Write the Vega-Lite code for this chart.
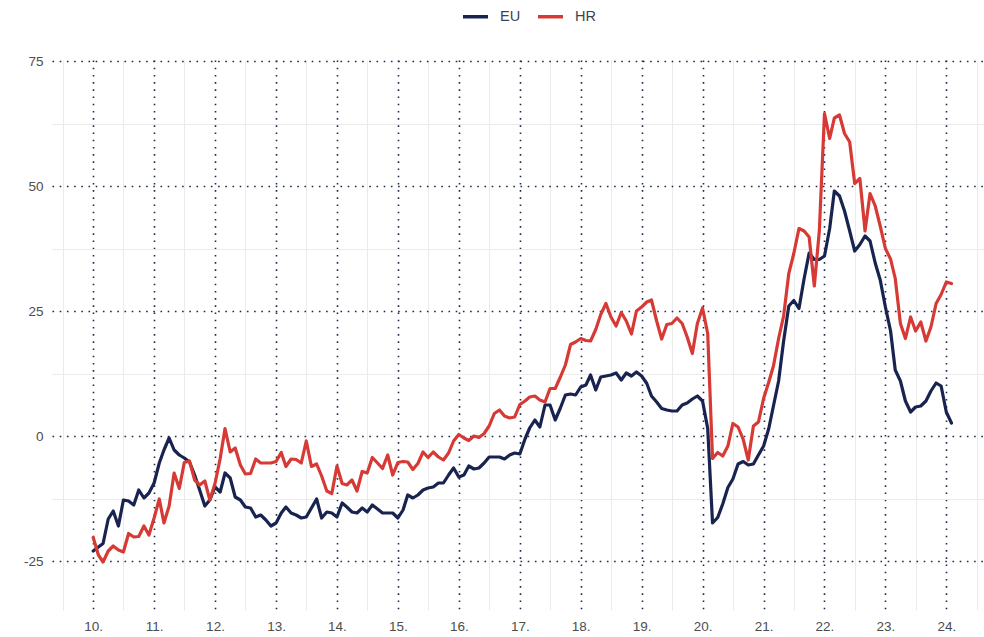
{
  "$schema": "https://vega.github.io/schema/vega-lite/v6.json",
  "width": 932,
  "height": 550,
  "autosize": {"type": "none"},
  "padding": {"left": 52, "top": 60, "right": 0, "bottom": 27},
  "background": "white",
  "config": {"view": {"stroke": null}, "font": "Liberation Sans"},
  "data": {
    "format": {"parse": {"date": "utc:'%Y-%m'"}},
    "values": [
      {"date": "2010-01", "EU": -23, "HR": -20.3},
      {"date": "2010-02", "EU": -22.2, "HR": -23.8},
      {"date": "2010-03", "EU": -21.5, "HR": -25.2},
      {"date": "2010-04", "EU": -16.6, "HR": -23},
      {"date": "2010-05", "EU": -15, "HR": -22},
      {"date": "2010-06", "EU": -18, "HR": -22.8},
      {"date": "2010-07", "EU": -12.8, "HR": -23.2},
      {"date": "2010-08", "EU": -13, "HR": -19.5},
      {"date": "2010-09", "EU": -13.8, "HR": -20.2},
      {"date": "2010-10", "EU": -10.8, "HR": -20.1},
      {"date": "2010-11", "EU": -12.4, "HR": -18},
      {"date": "2010-12", "EU": -11.4, "HR": -19.8},
      {"date": "2011-01", "EU": -9.4, "HR": -16.4},
      {"date": "2011-02", "EU": -5.4, "HR": -12.6},
      {"date": "2011-03", "EU": -2.8, "HR": -17.4},
      {"date": "2011-04", "EU": -0.4, "HR": -14},
      {"date": "2011-05", "EU": -2.8, "HR": -7.4},
      {"date": "2011-06", "EU": -3.8, "HR": -10.5},
      {"date": "2011-07", "EU": -4.4, "HR": -5.3},
      {"date": "2011-08", "EU": -5.2, "HR": -5},
      {"date": "2011-09", "EU": -7.8, "HR": -8.8},
      {"date": "2011-10", "EU": -10.8, "HR": -9.8},
      {"date": "2011-11", "EU": -14, "HR": -9},
      {"date": "2011-12", "EU": -12.8, "HR": -12.8},
      {"date": "2012-01", "EU": -10.2, "HR": -9.5},
      {"date": "2012-02", "EU": -11.2, "HR": -4.5},
      {"date": "2012-03", "EU": -7.4, "HR": 1.5},
      {"date": "2012-04", "EU": -8.4, "HR": -3.2},
      {"date": "2012-05", "EU": -12.2, "HR": -2.4},
      {"date": "2012-06", "EU": -12.8, "HR": -5.8},
      {"date": "2012-07", "EU": -14.2, "HR": -7.6},
      {"date": "2012-08", "EU": -14.4, "HR": -7.5},
      {"date": "2012-09", "EU": -16.2, "HR": -4.6},
      {"date": "2012-10", "EU": -15.8, "HR": -5.4},
      {"date": "2012-11", "EU": -16.8, "HR": -5.4},
      {"date": "2012-12", "EU": -18, "HR": -5.4},
      {"date": "2013-01", "EU": -17.4, "HR": -5.1},
      {"date": "2013-02", "EU": -15.4, "HR": -3.3},
      {"date": "2013-03", "EU": -14.2, "HR": -6.1},
      {"date": "2013-04", "EU": -15.4, "HR": -4.6},
      {"date": "2013-05", "EU": -15.8, "HR": -4.7},
      {"date": "2013-06", "EU": -16.4, "HR": -5.4},
      {"date": "2013-07", "EU": -16.2, "HR": -1},
      {"date": "2013-08", "EU": -14.4, "HR": -6.1},
      {"date": "2013-09", "EU": -12.6, "HR": -5.6},
      {"date": "2013-10", "EU": -16.4, "HR": -8},
      {"date": "2013-11", "EU": -15.2, "HR": -11},
      {"date": "2013-12", "EU": -15.4, "HR": -11.5},
      {"date": "2014-01", "EU": -16.2, "HR": -6},
      {"date": "2014-02", "EU": -13.4, "HR": -9.5},
      {"date": "2014-03", "EU": -14.2, "HR": -9.8},
      {"date": "2014-04", "EU": -15.2, "HR": -8.8},
      {"date": "2014-05", "EU": -15.4, "HR": -11},
      {"date": "2014-06", "EU": -14.4, "HR": -7.1},
      {"date": "2014-07", "EU": -15.2, "HR": -7.4},
      {"date": "2014-08", "EU": -13.8, "HR": -4.3},
      {"date": "2014-09", "EU": -14.6, "HR": -5.4},
      {"date": "2014-10", "EU": -15.4, "HR": -6.5},
      {"date": "2014-11", "EU": -15.4, "HR": -3.8},
      {"date": "2014-12", "EU": -15.4, "HR": -7.8},
      {"date": "2015-01", "EU": -16.4, "HR": -5.3},
      {"date": "2015-02", "EU": -14.8, "HR": -5.1},
      {"date": "2015-03", "EU": -11.8, "HR": -5.2},
      {"date": "2015-04", "EU": -12.4, "HR": -6.7},
      {"date": "2015-05", "EU": -11.8, "HR": -5.5},
      {"date": "2015-06", "EU": -10.8, "HR": -3.2},
      {"date": "2015-07", "EU": -10.4, "HR": -4.3},
      {"date": "2015-08", "EU": -10.2, "HR": -3.2},
      {"date": "2015-09", "EU": -9.4, "HR": -4.2},
      {"date": "2015-10", "EU": -9.4, "HR": -4.8},
      {"date": "2015-11", "EU": -7.8, "HR": -3.4},
      {"date": "2015-12", "EU": -6.4, "HR": -1},
      {"date": "2016-01", "EU": -8.2, "HR": 0.3},
      {"date": "2016-02", "EU": -7.8, "HR": -0.4},
      {"date": "2016-03", "EU": -6, "HR": -0.9},
      {"date": "2016-04", "EU": -6.6, "HR": 0},
      {"date": "2016-05", "EU": -6.4, "HR": -0.3},
      {"date": "2016-06", "EU": -5.4, "HR": 0.5},
      {"date": "2016-07", "EU": -4.2, "HR": 2},
      {"date": "2016-08", "EU": -4.2, "HR": 4.5},
      {"date": "2016-09", "EU": -4.2, "HR": 5.2},
      {"date": "2016-10", "EU": -4.6, "HR": 4},
      {"date": "2016-11", "EU": -3.8, "HR": 3.6},
      {"date": "2016-12", "EU": -3.4, "HR": 3.8},
      {"date": "2017-01", "EU": -3.6, "HR": 6.3},
      {"date": "2017-02", "EU": -0.6, "HR": 7},
      {"date": "2017-03", "EU": 1.6, "HR": 7.8},
      {"date": "2017-04", "EU": 3.2, "HR": 8},
      {"date": "2017-05", "EU": 1.8, "HR": 7.2},
      {"date": "2017-06", "EU": 6.2, "HR": 6.8},
      {"date": "2017-07", "EU": 6.2, "HR": 9.5},
      {"date": "2017-08", "EU": 3.2, "HR": 9.5},
      {"date": "2017-09", "EU": 5.6, "HR": 11.8},
      {"date": "2017-10", "EU": 8.2, "HR": 14.2},
      {"date": "2017-11", "EU": 8.4, "HR": 18.3},
      {"date": "2017-12", "EU": 8.2, "HR": 18.8},
      {"date": "2018-01", "EU": 9.8, "HR": 19.5},
      {"date": "2018-02", "EU": 10.2, "HR": 19.1},
      {"date": "2018-03", "EU": 12.2, "HR": 19},
      {"date": "2018-04", "EU": 9.2, "HR": 21.3},
      {"date": "2018-05", "EU": 11.8, "HR": 24.3},
      {"date": "2018-06", "EU": 12, "HR": 26.5},
      {"date": "2018-07", "EU": 12.2, "HR": 23.8},
      {"date": "2018-08", "EU": 12.6, "HR": 22},
      {"date": "2018-09", "EU": 11.2, "HR": 24.7},
      {"date": "2018-10", "EU": 12.6, "HR": 23},
      {"date": "2018-11", "EU": 12, "HR": 20.4},
      {"date": "2018-12", "EU": 12.8, "HR": 25},
      {"date": "2019-01", "EU": 12, "HR": 25.8},
      {"date": "2019-02", "EU": 10.5, "HR": 26.8},
      {"date": "2019-03", "EU": 8, "HR": 27.2},
      {"date": "2019-04", "EU": 6.8, "HR": 23},
      {"date": "2019-05", "EU": 5.5, "HR": 19.4},
      {"date": "2019-06", "EU": 5.2, "HR": 22.3},
      {"date": "2019-07", "EU": 5, "HR": 22.5},
      {"date": "2019-08", "EU": 5, "HR": 23.6},
      {"date": "2019-09", "EU": 6.2, "HR": 22.5},
      {"date": "2019-10", "EU": 6.6, "HR": 19.8},
      {"date": "2019-11", "EU": 7.4, "HR": 16.5},
      {"date": "2019-12", "EU": 8, "HR": 22.5},
      {"date": "2020-01", "EU": 7, "HR": 25.6},
      {"date": "2020-02", "EU": 1.5, "HR": 20.5},
      {"date": "2020-03", "EU": -17.4, "HR": -4.5},
      {"date": "2020-04", "EU": -16.3, "HR": -3.3},
      {"date": "2020-05", "EU": -13.6, "HR": -4},
      {"date": "2020-06", "EU": -10.3, "HR": -2},
      {"date": "2020-07", "EU": -8.6, "HR": 2.5},
      {"date": "2020-08", "EU": -5.6, "HR": 1.8},
      {"date": "2020-09", "EU": -5.1, "HR": -0.7},
      {"date": "2020-10", "EU": -5.8, "HR": -4.8},
      {"date": "2020-11", "EU": -5.6, "HR": 2},
      {"date": "2020-12", "EU": -3.8, "HR": 2.8},
      {"date": "2021-01", "EU": -2, "HR": 7.5},
      {"date": "2021-02", "EU": 1.5, "HR": 10.8},
      {"date": "2021-03", "EU": 6, "HR": 14},
      {"date": "2021-04", "EU": 11, "HR": 19.5},
      {"date": "2021-05", "EU": 19, "HR": 24},
      {"date": "2021-06", "EU": 26, "HR": 32.5},
      {"date": "2021-07", "EU": 27.1, "HR": 36.5},
      {"date": "2021-08", "EU": 25.5, "HR": 41.5},
      {"date": "2021-09", "EU": 31.5, "HR": 41},
      {"date": "2021-10", "EU": 36.6, "HR": 39.8},
      {"date": "2021-11", "EU": 35.3, "HR": 30},
      {"date": "2021-12", "EU": 35.3, "HR": 41},
      {"date": "2022-01", "EU": 36, "HR": 64.5},
      {"date": "2022-02", "EU": 41.5, "HR": 59.5},
      {"date": "2022-03", "EU": 49, "HR": 63.6},
      {"date": "2022-04", "EU": 48, "HR": 64.2},
      {"date": "2022-05", "EU": 45, "HR": 60.5},
      {"date": "2022-06", "EU": 41, "HR": 58.8},
      {"date": "2022-07", "EU": 37, "HR": 50.5},
      {"date": "2022-08", "EU": 38.3, "HR": 51.5},
      {"date": "2022-09", "EU": 40, "HR": 41},
      {"date": "2022-10", "EU": 39, "HR": 48.5},
      {"date": "2022-11", "EU": 34.6, "HR": 46},
      {"date": "2022-12", "EU": 31.2, "HR": 42},
      {"date": "2023-01", "EU": 25.8, "HR": 37.5},
      {"date": "2023-02", "EU": 21, "HR": 35.4},
      {"date": "2023-03", "EU": 13.2, "HR": 31.5},
      {"date": "2023-04", "EU": 11, "HR": 22.5},
      {"date": "2023-05", "EU": 7, "HR": 19.5},
      {"date": "2023-06", "EU": 4.8, "HR": 23.8},
      {"date": "2023-07", "EU": 5.8, "HR": 21},
      {"date": "2023-08", "EU": 6, "HR": 22.8},
      {"date": "2023-09", "EU": 7, "HR": 19},
      {"date": "2023-10", "EU": 9, "HR": 21.8},
      {"date": "2023-11", "EU": 10.6, "HR": 26.5},
      {"date": "2023-12", "EU": 10, "HR": 28.3},
      {"date": "2024-01", "EU": 4.8, "HR": 30.8},
      {"date": "2024-02", "EU": 2.6, "HR": 30.5}
    ]
  },
  "transform": [{"fold": ["EU", "HR"], "as": ["series", "value"]}],
  "mark": {"type": "line", "strokeWidth": 3.2, "strokeJoin": "round", "strokeCap": "round"},
  "encoding": {
    "x": {
      "field": "date",
      "type": "temporal",
      "scale": {
        "type": "utc",
        "domain": [
          {"year": 2009, "month": 4, "date": 29, "utc": true},
          {"year": 2024, "month": 8, "date": 14, "utc": true}
        ]
      },
      "axis": {
        "title": null,
        "values": [
          {"year": 2009, "month": 7, "date": 1, "utc": true},
          {"year": 2010, "month": 1, "date": 1, "utc": true},
          {"year": 2010, "month": 7, "date": 1, "utc": true},
          {"year": 2011, "month": 1, "date": 1, "utc": true},
          {"year": 2011, "month": 7, "date": 1, "utc": true},
          {"year": 2012, "month": 1, "date": 1, "utc": true},
          {"year": 2012, "month": 7, "date": 1, "utc": true},
          {"year": 2013, "month": 1, "date": 1, "utc": true},
          {"year": 2013, "month": 7, "date": 1, "utc": true},
          {"year": 2014, "month": 1, "date": 1, "utc": true},
          {"year": 2014, "month": 7, "date": 1, "utc": true},
          {"year": 2015, "month": 1, "date": 1, "utc": true},
          {"year": 2015, "month": 7, "date": 1, "utc": true},
          {"year": 2016, "month": 1, "date": 1, "utc": true},
          {"year": 2016, "month": 7, "date": 1, "utc": true},
          {"year": 2017, "month": 1, "date": 1, "utc": true},
          {"year": 2017, "month": 7, "date": 1, "utc": true},
          {"year": 2018, "month": 1, "date": 1, "utc": true},
          {"year": 2018, "month": 7, "date": 1, "utc": true},
          {"year": 2019, "month": 1, "date": 1, "utc": true},
          {"year": 2019, "month": 7, "date": 1, "utc": true},
          {"year": 2020, "month": 1, "date": 1, "utc": true},
          {"year": 2020, "month": 7, "date": 1, "utc": true},
          {"year": 2021, "month": 1, "date": 1, "utc": true},
          {"year": 2021, "month": 7, "date": 1, "utc": true},
          {"year": 2022, "month": 1, "date": 1, "utc": true},
          {"year": 2022, "month": 7, "date": 1, "utc": true},
          {"year": 2023, "month": 1, "date": 1, "utc": true},
          {"year": 2023, "month": 7, "date": 1, "utc": true},
          {"year": 2024, "month": 1, "date": 1, "utc": true},
          {"year": 2024, "month": 7, "date": 1, "utc": true}
        ],
        "labelExpr": "utcmonth(datum.value) == 0 ? utcFormat(datum.value, '%y.') : ''",
        "domain": false,
        "ticks": false,
        "grid": true,
        "gridColor": {"condition": {"test": "utcmonth(datum.value) == 6", "value": "#ebebeb"}, "value": "#1f2a4a"},
        "gridDash": {"condition": {"test": "utcmonth(datum.value) == 6", "value": []}, "value": [1.6, 5.6]},
        "gridWidth": {"condition": {"test": "utcmonth(datum.value) == 6", "value": 1}, "value": 1.6},
        "labelColor": "#4d4d4d",
        "labelFontSize": 13.5,
        "labelPadding": 9,
        "labelFlush": false,
        "labelOverlap": false
      }
    },
    "y": {
      "field": "value",
      "type": "quantitative",
      "scale": {"domain": [-34.8, 75.2], "nice": false, "zero": false},
      "axis": {
        "title": null,
        "values": [-25, -12.5, 0, 12.5, 25, 37.5, 50, 62.5, 75],
        "labelExpr": "datum.value % 25 == 0 ? '' + datum.value : ''",
        "domain": false,
        "ticks": false,
        "grid": true,
        "gridColor": {"condition": {"test": "datum.value % 25 != 0", "value": "#ebebeb"}, "value": "#1f2a4a"},
        "gridDash": {"condition": {"test": "datum.value % 25 != 0", "value": []}, "value": [1.6, 5.6]},
        "gridWidth": {"condition": {"test": "datum.value % 25 != 0", "value": 1}, "value": 1.6},
        "labelColor": "#4d4d4d",
        "labelFontSize": 13.5,
        "labelPadding": 9,
        "labelFlush": false,
        "labelOverlap": false
      }
    },
    "color": {
      "field": "series",
      "type": "nominal",
      "scale": {"domain": ["EU", "HR"], "range": ["#18244f", "#d73a34"]},
      "legend": {
        "title": null,
        "orient": "none",
        "direction": "horizontal",
        "legendX": 409,
        "legendY": -58,
        "symbolType": "stroke",
        "symbolSize": 625,
        "symbolStrokeWidth": 3.5,
        "labelFontSize": 14.5,
        "labelColor": "#3c4454",
        "labelOffset": 10,
        "columnPadding": 10
      }
    }
  }
}
